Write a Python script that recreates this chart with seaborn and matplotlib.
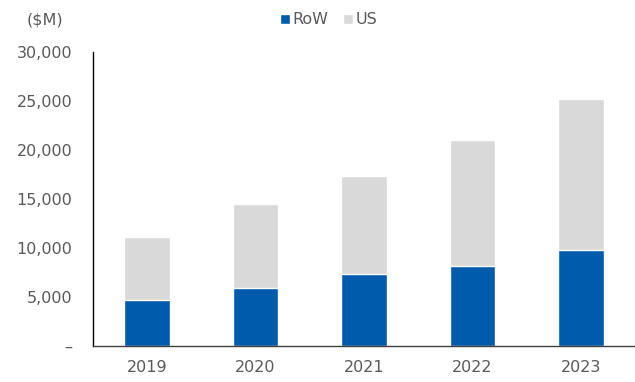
import matplotlib
matplotlib.use("Agg")
import matplotlib.pyplot as plt
import seaborn as sns
import pandas as pd
from matplotlib.ticker import FuncFormatter
from matplotlib.patches import Patch

years = ["2019", "2020", "2021", "2022", "2023"]
row_values = [4700, 5900, 7350, 8150, 9800]
us_values = [6400, 8600, 9950, 12850, 15400]
y_ticks = [0, 5000, 10000, 15000, 20000, 25000, 30000]

df = pd.DataFrame({"year": years, "RoW": row_values, "US": us_values})
df["total"] = df["RoW"] + df["US"]

sns.set_style("white")
plt.rcParams["font.family"] = ["DejaVu Sans"]

blue = "#005BAC"
grey = "#D9D9D9"
text_col = "#595959"
fs = 11.5

fig = plt.figure(figsize=(6.35, 3.82), dpi=100)
ax = fig.add_axes([0.1465, 0.094, 0.8535, 0.770])

sns.barplot(data=df, x="year", y="total", color=grey, width=0.42,
            saturation=1, ax=ax)
sns.barplot(data=df, x="year", y="RoW", color=blue, width=0.42,
            saturation=1, ax=ax)

ax.set_xlim(-0.5, 4.5)
ax.set_ylim(0, 30000)
ax.set_yticks(y_ticks)
ax.yaxis.set_major_formatter(FuncFormatter(lambda v, p: "–" if v == 0 else f"{int(v):,}"))
ax.set_xlabel("")
ax.set_ylabel("")
ax.tick_params(axis="both", length=0, labelsize=fs, colors=text_col)
ax.tick_params(axis="y", pad=15)
ax.tick_params(axis="x", pad=10)

for s in ["top", "right"]:
    ax.spines[s].set_visible(False)
ax.spines["left"].set_color("#000000")
ax.spines["left"].set_linewidth(1.0)
ax.spines["bottom"].set_color("#404040")
ax.spines["bottom"].set_linewidth(1.0)

fig.text(0.071, 0.948, "($M)", fontsize=fs, color=text_col, ha="center", va="center")

handles = [Patch(facecolor=blue, label="RoW"), Patch(facecolor=grey, label="US")]
fig.legend(handles=handles, loc="center", bbox_to_anchor=(0.518, 0.948), ncol=2,
           frameon=False, fontsize=fs, labelcolor=text_col, handlelength=0.6,
           handleheight=0.6, handletextpad=0.2, columnspacing=0.9,
           borderpad=0)

fig.savefig("out.png", dpi=100)
